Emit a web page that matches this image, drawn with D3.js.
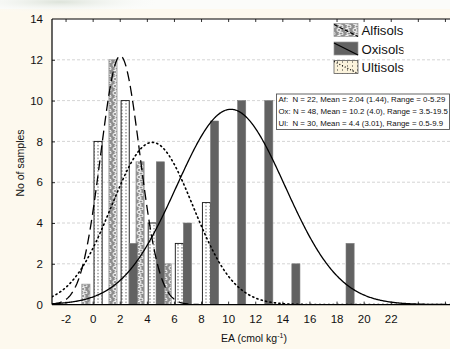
<!DOCTYPE html>
<html>
<head>
<meta charset="utf-8">
<script src="https://cdn.jsdelivr.net/npm/d3@7/dist/d3.min.js"></script>
<style>
  html, body { margin: 0; padding: 0; background: #fdf9ee; }
  svg { display: block; font-family: "Liberation Sans", Arial, sans-serif; }
</style>
</head>
<body>
<svg id="chart" width="450" height="349"></svg>
<script>
// Histogram bin centres and counts for each soil order
const alfBins = [-0.5, 1.5, 3.5, 5.5];
const alfCounts = [1, 12, 7, 2];
const ultBins = [0.4, 2.4, 4.4, 6.4, 8.4];
const ultCounts = [8, 10, 4, 3, 5];
const oxiBins = [3, 5, 7, 9, 11, 13, 15, 19];
const oxiCounts = [3, 7, 4, 9, 10, 10, 2, 3];

// Summary statistics used for the fitted normal curves
const seriesNames = ["Alfisols", "Oxisols", "Ultisols"];
const seriesN = [22, 48, 30];
const seriesMean = [2.04, 10.2, 4.4];
const seriesSd = [1.44, 4.0, 3.01];
const binWidth = 2;

// Axis ticks
const xTicks = [-2, 0, 2, 4, 6, 8, 10, 12, 14, 16, 18, 20, 22, 24, 26];
const xTickLabels = ["-2", "0", "2", "4", "6", "8", "10", "12", "14", "16", "18", "20", "22", "", ""];
const yTicks = [0, 2, 4, 6, 8, 10, 12, 14];

const statLines = [
  "Af:  N = 22, Mean = 2.04 (1.44), Range = 0-5.29",
  "Ox: N = 48, Mean = 10.2 (4.0), Range = 3.5-19.5",
  "Ul:  N = 30, Mean = 4.4 (3.01), Range = 0.5-9.9"
];

const svg = d3.select("#chart");
const W = 450, H = 349;
const plot = { left: 52, top: 19, right: 451.7, bottom: 304.6 };

const x = d3.scaleLinear().domain([-3, 26.5]).range([plot.left, plot.right]);
const y = d3.scaleLinear().domain([0, 14]).range([plot.bottom, plot.top]);

const defs = svg.append("defs");

// soft haze along the top edge
const hz = defs.append("radialGradient").attr("id", "haze");
hz.append("stop").attr("offset", "0%").attr("stop-color", "#d9e0d6").attr("stop-opacity", 0.9);
hz.append("stop").attr("offset", "100%").attr("stop-color", "#ffffff").attr("stop-opacity", 0);

// Alfisol fill: grey with white rings
const pA = defs.append("pattern").attr("id", "patAlf")
  .attr("patternUnits", "userSpaceOnUse").attr("width", 8).attr("height", 7);
pA.append("rect").attr("width", 8).attr("height", 7).attr("fill", "#8e8e8e");
pA.append("ellipse").attr("cx", 3).attr("cy", 2).attr("rx", 2).attr("ry", 1.5)
  .attr("fill", "none").attr("stroke", "#f4f4f4").attr("stroke-width", 1.1);
pA.append("ellipse").attr("cx", 5).attr("cy", 5.5).attr("rx", 2).attr("ry", 1.4)
  .attr("fill", "none").attr("stroke", "#e8e8e8").attr("stroke-width", 1.1);

// Ultisol fill: white with small black dots
const pU = defs.append("pattern").attr("id", "patUlt")
  .attr("patternUnits", "userSpaceOnUse").attr("width", 4).attr("height", 3.2);
pU.append("rect").attr("width", 4).attr("height", 3.2).attr("fill", "#ffffff");
pU.append("rect").attr("x", 1.5).attr("y", 1).attr("width", 1).attr("height", 1).attr("fill", "#222");

const pUL = defs.append("pattern").attr("id", "patUltLeg")
  .attr("patternUnits", "userSpaceOnUse").attr("width", 5).attr("height", 4);
pUL.append("rect").attr("width", 5).attr("height", 4).attr("fill", "#fbf3dc");
pUL.append("rect").attr("x", 2).attr("y", 1.5).attr("width", 1).attr("height", 1).attr("fill", "#333");

defs.append("clipPath").attr("id", "plotClip")
  .append("rect").attr("x", plot.left).attr("y", plot.top)
  .attr("width", plot.right - plot.left).attr("height", plot.bottom - plot.top);

defs.append("clipPath").attr("id", "legClip")
  .append("rect").attr("x", 330).attr("y", 18).attr("width", 73.5).attr("height", 60);

// page background
svg.append("rect").attr("width", W).attr("height", H).attr("fill", "#fdf9ee");
svg.append("rect").attr("width", W).attr("height", 9).attr("fill", "#fbfcfa");
svg.append("ellipse").attr("cx", 60).attr("cy", 2).attr("rx", 110).attr("ry", 12).attr("fill", "url(#haze)");

// plot area
svg.append("rect").attr("x", plot.left).attr("y", plot.top)
  .attr("width", plot.right - plot.left).attr("height", plot.bottom - plot.top)
  .attr("fill", "#ffffff");

// horizontal grid
svg.append("g").selectAll("line").data(yTicks.filter(t => t > 0 && t < 14)).join("line")
  .attr("x1", plot.left).attr("x2", plot.right)
  .attr("y1", d => y(d)).attr("y2", d => y(d))
  .attr("stroke", "#c9c9c9").attr("stroke-width", 0.8).attr("stroke-dasharray", "3,2");

// bars
const barW = 0.6;
const bars = svg.append("g").attr("clip-path", "url(#plotClip)");
function drawBars(bins, counts, fill, stroke, sw) {
  bars.append("g").selectAll("rect").data(bins.map((b, i) => ({ b, c: counts[i] }))).join("rect")
    .attr("x", d => x(d.b - barW / 2))
    .attr("y", d => y(d.c))
    .attr("width", d => x(d.b + barW / 2) - x(d.b - barW / 2))
    .attr("height", d => y(0) - y(d.c))
    .attr("fill", fill).attr("stroke", stroke).attr("stroke-width", sw);
}
drawBars(alfBins, alfCounts, "url(#patAlf)", "#9a9a9a", 0.8);
drawBars(ultBins, ultCounts, "url(#patUlt)", "#111", 0.9);
drawBars(oxiBins, oxiCounts, "#626262", "#7a7a7a", 0.6);

// fitted normal curves
const xs = d3.range(-3, 26.55, 0.05);
function normalCurve(i) {
  const k = seriesN[i] * binWidth / (seriesSd[i] * Math.sqrt(2 * Math.PI));
  return xs.map(v => [v, k * Math.exp(-0.5 * Math.pow((v - seriesMean[i]) / seriesSd[i], 2))]);
}
const line = d3.line().x(d => x(d[0])).y(d => y(d[1])).curve(d3.curveLinear);
const curves = svg.append("g").attr("clip-path", "url(#plotClip)").attr("fill", "none").attr("stroke", "#000");
curves.append("path").attr("d", line(normalCurve(0))).attr("stroke-width", 1.3).attr("stroke-dasharray", "10,5");
curves.append("path").attr("d", line(normalCurve(1))).attr("stroke-width", 1.3);
curves.append("path").attr("d", line(normalCurve(2))).attr("stroke-width", 1.6).attr("stroke-dasharray", "1.2,3.3").attr("stroke-linecap", "round");

// frame
const axisG = svg.append("g").attr("stroke", "#000");
axisG.append("line").attr("x1", plot.left).attr("x2", plot.right).attr("y1", plot.bottom).attr("y2", plot.bottom).attr("stroke-width", 1.3);
axisG.append("line").attr("x1", plot.left).attr("x2", plot.right).attr("y1", plot.top).attr("y2", plot.top).attr("stroke-width", 1);
axisG.append("line").attr("x1", plot.left).attr("x2", plot.left).attr("y1", plot.top).attr("y2", plot.bottom).attr("stroke-width", 1.2);

// axes built with d3 axis generators, ticks drawn inward
const xAxis = svg.append("g").attr("transform", `translate(0,${plot.bottom})`)
  .call(d3.axisBottom(x).tickValues(xTicks).tickSize(-3).tickPadding(10)
    .tickFormat((d, i) => xTickLabels[i]));
const xTop = svg.append("g").attr("transform", `translate(0,${plot.top})`)
  .call(d3.axisTop(x).tickValues(xTicks).tickSize(-3).tickFormat(""));
const yAxis = svg.append("g").attr("transform", `translate(${plot.left},0)`)
  .call(d3.axisLeft(y).tickValues(yTicks).tickSize(-3).tickPadding(9));
[xAxis, xTop, yAxis].forEach(g => {
  g.select(".domain").remove();
  g.selectAll(".tick line").attr("stroke", "#000").attr("stroke-width", 0.8);
  g.selectAll("text").attr("font-family", "Liberation Sans, Arial, sans-serif")
    .attr("font-size", 11.5).attr("fill", "#111");
});
yAxis.selectAll(".tick").filter(d => d === 0 || d === 14).select("line").remove();

// axis titles
const xt = svg.append("text").attr("x", 254).attr("y", 342).attr("text-anchor", "middle")
  .attr("font-size", 10.5).attr("fill", "#111");
xt.append("tspan").text("EA (cmol kg");
xt.append("tspan").attr("dy", -4).attr("font-size", 7).text("-1");
xt.append("tspan").attr("dy", 4).text(")");

svg.append("text").attr("transform", "translate(24,163) rotate(-90)")
  .attr("text-anchor", "middle").attr("font-size", 10.5).attr("fill", "#111")
  .text("No of samples");

// legend
const leg = svg.append("g");
const legY = [23.5, 42, 60.5];
const legFill = ["url(#patAlf)", "#626262", "url(#patUltLeg)"];
const legDash = ["4,2", null, "1,2"];
seriesNames.forEach((name, i) => {
  const y0 = legY[i];
  leg.append("rect").attr("x", 334).attr("y", y0).attr("width", 24).attr("height", 13)
    .attr("fill", legFill[i]).attr("stroke", i === 2 ? "#444" : "#9a9a9a").attr("stroke-width", 0.7);
  const dl = leg.append("line").attr("x1", 334).attr("y1", y0 + 1).attr("x2", 358).attr("y2", y0 + 13)
    .attr("stroke", "#000").attr("stroke-width", 1.2);
  if (legDash[i]) dl.attr("stroke-dasharray", legDash[i]);
  leg.append("text").attr("x", 361.5).attr("y", y0 + 11.5).attr("font-size", 13.2)
    .attr("fill", "#111").attr("clip-path", "url(#legClip)").text(name);
});

// statistics box
const box = svg.append("g");
box.append("rect").attr("x", 276.5).attr("y", 94).attr("width", 173).attr("height", 35.5)
  .attr("fill", "#fff").attr("stroke", "#555").attr("stroke-width", 0.9);
box.selectAll("text").data(statLines).join("text")
  .attr("x", 278.5).attr("y", (d, i) => 102.3 + i * 12)
  .attr("font-size", 7.85).attr("fill", "#111").style("white-space", "pre")
  .text(d => d);
</script>
</body>
</html>
